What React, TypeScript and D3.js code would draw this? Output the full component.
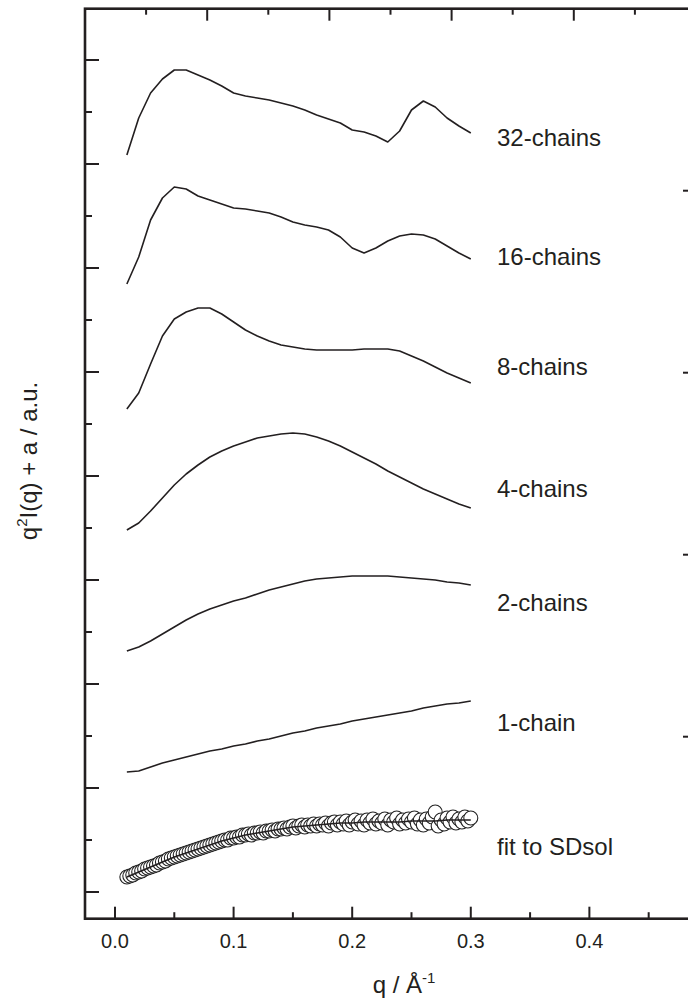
import React from 'react';
import * as d3 from 'd3';

// q grid (Å^-1) of the simulated curves
const qGrid = [0.01,0.02,0.03,0.04,0.05,0.06,0.07,0.08,0.09,0.10,0.11,0.12,0.13,0.14,0.15,0.16,0.17,0.18,0.19,0.20,0.21,0.22,0.23,0.24,0.25,0.26,0.27,0.28,0.29,0.30];

const seriesNames = ['32-chains','16-chains','8-chains','4-chains','2-chains','1-chain'];
const fitName = 'fit to SDsol';

// q^2 I(q) + a (a.u.)
const chains32 = [737,774,799,813,822,822,817,812,806,799,796,794,792,789,786,782,777,773,769,762,760,756,750,761,782,791,785,774,766,759];
const chains16 = [608,635,672,694,705,703,696,692,688,684,683,681,679,675,670,667,665,662,655,644,639,644,651,656,658,657,653,646,639,633];
const chains8 = [483,499,528,556,573,580,584,584,578,570,562,556,551,547,545,543,542,542,542,542,543,543,543,541,536,531,525,519,514,509];
const chains4 = [362,369,381,394,407,418,427,435,441,446,450,454,456,458,459,458,455,451,446,440,434,428,421,415,409,403,398,393,388,384];
const chains2 = [241,245,251,258,265,272,278,283,287,291,294,298,302,305,308,311,313,314,315,316,316,316,316,315,314,313,312,310,309,307];
const chains1 = [120,121,125,129,132,135,138,141,143,146,148,151,153,156,159,161,164,166,168,171,173,175,177,179,181,184,186,188,189,191];
const fitCurve = [15,20,25,30,35,39,43,47,51,54,57,59,61,63,65,66,67,68,69,69,70,70,70,70,71,71,71,72,72,72];

// experimental SDsol points
const sdQ = [0.01,0.0125,0.015,0.0175,0.02,0.0225,0.025,0.0275,0.03,0.0325,0.035,0.0375,0.04,0.0425,0.045,0.0475,0.05,0.0525,0.055,0.0575,0.06,0.0625,0.065,0.0675,0.07,0.0725,0.075,0.0775,0.08,0.0825,0.085,0.0875,0.09,0.0925,0.095,0.0975,0.1,0.1025,0.105,0.1075,0.11,0.1125,0.115,0.1175,0.12,0.1225,0.125,0.1275,0.13,0.1325,0.135,0.1375,0.14,0.1425,0.145,0.1475,0.15,0.1525,0.155,0.1575,0.16,0.1625,0.165,0.1675,0.17,0.1725,0.175,0.1775,0.18,0.1825,0.185,0.1875,0.19,0.1925,0.195,0.1975,0.2,0.2025,0.205,0.2075,0.21,0.2125,0.215,0.2175,0.22,0.2225,0.225,0.2275,0.23,0.2325,0.235,0.2375,0.24,0.2425,0.245,0.2475,0.25,0.2525,0.255,0.2575,0.26,0.2625,0.265,0.2675,0.27,0.2725,0.275,0.2775,0.28,0.2825,0.285,0.2875,0.29,0.2925,0.295,0.2975,0.3];
const sdI = [15,16,17,19,20,21,23,24,25,26,
  27,29,30,31,33,34,35,36,37,38,
  39,40,41,42,43,44,45,46,47,48,
  49,50,51,52,52,54,54,55,55,57,
  57,58,57,59,59,60,59,61,61,62,
  61,63,63,64,63,65,66,64,66,67,
  65,67,66,68,66,68,67,69,66,69,
  70,67,70,68,71,67,70,72,68,71,
  67,72,69,73,68,71,69,73,67,72,
  70,74,68,72,69,73,70,74,68,72,
  67,73,69,75,80,66,72,68,74,70,
  75,69,73,70,75,71,74];

// label anchor values (a.u.) for the series names
const labelLevels = [746,627,517,395,281,161,37];

const xMajor = [0, 0.1, 0.2, 0.3, 0.4];
const xMinor = [0.05, 0.15, 0.25, 0.35, 0.45];
const xTickLabels = ['0.0', '0.1', '0.2', '0.3', '0.4'];
const yMajor = [0, 104, 208, 312, 416, 520, 624, 728, 832];
const yMinor = [52, 156, 260, 364, 468, 572, 676, 780];
const topMajor = [1, 2, 3, 4];
const topMinor = [0.5, 1.5, 2.5, 3.5, 4.5];
const rightMajor = [1, 2, 3, 4];

const W = 688, H = 1006;
const L = 85, R = 696, T = 8.7, B = 918.7;
const INK = '#231f20';
const FONT = '"Liberation Sans", Arial, Helvetica, sans-serif';

export default function App() {
  const x = d3.scaleLinear().domain([-0.0253, 0.4899]).range([L, R]);
  const y = d3.scaleLinear().domain([-26.7, 883.3]).range([B, T]);
  const xTop = d3.scaleLinear().domain([0, 5]).range([L, R]);
  const yRight = d3.scaleLinear().domain([0, 5]).range([B, T]);

  const curves = [chains32, chains16, chains8, chains4, chains2, chains1];
  const line = d3.line<number>().x((_, i) => x(qGrid[i])).y((d) => y(d));

  return (
    <svg width={W} height={H} style={{ position: 'absolute', left: 0, top: 0, background: '#fff' }} fontFamily={FONT}>
      <rect x={0} y={0} width={W} height={H} fill="#fff" />
      {/* SDsol points */}
      <g>
        {sdQ.map((q, i) => (
          <circle key={i} cx={x(q)} cy={y(sdI[i])} r={7} fill="#fff" stroke="#222" strokeWidth={1.1} />
        ))}
      </g>
      {/* curves */}
      {curves.map((c, k) => (
        <path key={k} d={line(c) || ''} fill="none" stroke={INK} strokeWidth={1.6} strokeLinejoin="round" />
      ))}
      <path d={line(fitCurve) || ''} fill="none" stroke={INK} strokeWidth={1.6} />

      {/* labels */}
      {[...seriesNames, fitName].map((n, i) => (
        <text key={n} x={497} y={y(labelLevels[i])} fontSize={24} fill={INK}>{n}</text>
      ))}

      {/* frame */}
      <rect x={L} y={T} width={R - L} height={B - T} fill="none" stroke={INK} strokeWidth={2.6} />

      {/* bottom ticks */}
      {xMajor.map((v) => (
        <line key={'bM' + v} x1={x(v)} x2={x(v)} y1={B} y2={B - 12} stroke={INK} strokeWidth={2} />
      ))}
      {xMinor.map((v) => (
        <line key={'bm' + v} x1={x(v)} x2={x(v)} y1={B} y2={B - 6.5} stroke={INK} strokeWidth={2} />
      ))}
      {xMajor.map((v, i) => (
        <text key={'bl' + v} x={x(v)} y={948} fontSize={20} textAnchor="middle" fill={INK}>{xTickLabels[i]}</text>
      ))}
      {/* top ticks */}
      {topMajor.map((v) => (
        <line key={'tM' + v} x1={xTop(v)} x2={xTop(v)} y1={T} y2={T + 12} stroke={INK} strokeWidth={2} />
      ))}
      {topMinor.map((v) => (
        <line key={'tm' + v} x1={xTop(v)} x2={xTop(v)} y1={T} y2={T + 6} stroke={INK} strokeWidth={2} />
      ))}
      {/* left ticks */}
      {yMajor.map((v) => (
        <line key={'lM' + v} x1={L} x2={L + 14} y1={y(v)} y2={y(v)} stroke={INK} strokeWidth={2} />
      ))}
      {yMinor.map((v) => (
        <line key={'lm' + v} x1={L} x2={L + 7} y1={y(v)} y2={y(v)} stroke={INK} strokeWidth={2} />
      ))}
      {/* right ticks */}
      {rightMajor.map((v) => (
        <line key={'rM' + v} x1={R} x2={R - 13} y1={yRight(v)} y2={yRight(v)} stroke={INK} strokeWidth={2} />
      ))}

      {/* axis titles */}
      <text x={404} y={993} fontSize={24} textAnchor="middle" fill={INK}>
        q / Å<tspan fontSize={15} dy={-10}>-1</tspan>
      </text>
      <text transform={`translate(37, 461) rotate(-90)`} fontSize={24} textAnchor="middle" fill={INK}>
        q<tspan fontSize={15} dy={-10}>2</tspan><tspan dy={10}>I(q) + a / a.u.</tspan>
      </text>
    </svg>
  );
}
